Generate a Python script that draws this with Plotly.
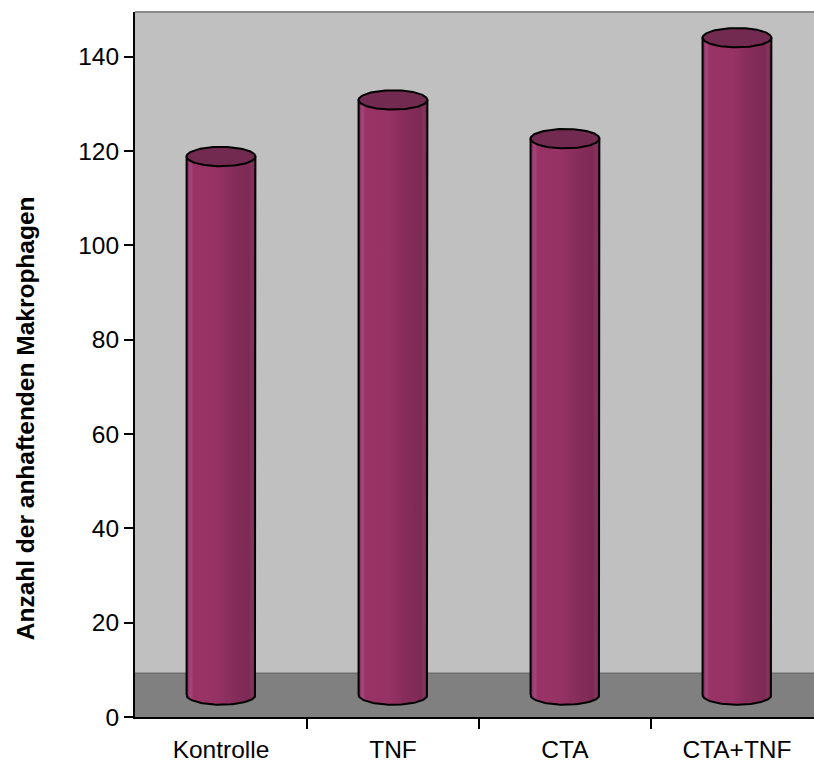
import numpy as np
import plotly.graph_objects as go

# Adherent macrophage counts per treatment group
categories = ["Kontrolle", "TNF", "CTA", "CTA+TNF"]
values = [114.2, 126.2, 118.0, 139.4]
y_ticks = [0, 20, 40, 60, 80, 100, 120, 140]

# Pseudo-3D geometry (data units)
FLOOR_DEPTH = 9.3          # visible depth of the floor slab
BASE = FLOOR_DEPTH / 2     # cylinders stand in the middle of the floor
HALF_W = 0.2               # half width of a cylinder in category units
ELL_H = 2.05               # vertical semi-axis of the cylinder ellipses
Y_MAX = 149.5
X_RANGE = [-0.5, 3.448]

BODY_SCALE = [
    [0.00, "#86295a"],
    [0.06, "#a4477a"],
    [0.10, "#993366"],
    [0.45, "#963265"],
    [0.60, "#8a2e5d"],
    [0.90, "#7c2a54"],
    [0.95, "#86335e"],
    [1.00, "#74274e"],
]
TOP_COLOR = "#722a51"
FONT = "Liberation Sans, Arial"

fig = go.Figure()

theta_half = np.linspace(0, np.pi, 60)
theta_full = np.linspace(0, 2 * np.pi, 120)

for i, (name, v) in enumerate(zip(categories, values)):
    top = BASE + v
    # cylinder body: sides plus front half of the bottom ellipse
    bx = np.concatenate([
        [i - HALF_W, i - HALF_W, i + HALF_W, i + HALF_W],
        i + HALF_W * np.cos(theta_half),
    ])
    by = np.concatenate([
        [BASE, top, top, BASE],
        BASE - ELL_H * np.sin(theta_half),
    ])
    fig.add_trace(go.Scatter(
        x=bx, y=by, mode="lines", fill="toself",
        line=dict(color="black", width=2),
        fillgradient=dict(type="horizontal", colorscale=BODY_SCALE),
        hoverinfo="skip", showlegend=False,
    ))
    # top cap ellipse
    fig.add_trace(go.Scatter(
        x=i + HALF_W * np.cos(theta_full),
        y=top + ELL_H * np.sin(theta_full),
        mode="lines", fill="toself", fillcolor=TOP_COLOR,
        line=dict(color="black", width=2),
        name=name, hovertemplate="%{fullData.name}: " + f"{v}<extra></extra>",
        showlegend=False,
    ))

# floor slab and its back edge
fig.add_shape(type="rect", xref="paper", yref="y", x0=0, x1=1, y0=0, y1=FLOOR_DEPTH,
              fillcolor="#808080", line_width=0, layer="below")
fig.add_shape(type="line", xref="paper", yref="y", x0=0, x1=1,
              y0=FLOOR_DEPTH, y1=FLOOR_DEPTH, line=dict(color="#6e6e6e", width=1.5),
              layer="below")
# top edge of the back wall
fig.add_shape(type="line", xref="paper", yref="paper", x0=0, x1=1, y0=1, y1=1,
              line=dict(color="#8a8a8a", width=2), layer="above")

fig.add_annotation(
    text="<b>Anzahl der anhaftenden Makrophagen</b>",
    xref="paper", yref="paper", x=(25 - 135) / 679, y=(720 - 420) / 708,
    xanchor="center", yanchor="middle", textangle=-90, showarrow=False,
    font=dict(family=FONT, size=24.5, color="black"),
)

fig.update_xaxes(
    range=X_RANGE, tickvals=list(range(len(categories))), ticktext=categories,
    ticks="outside", ticklen=10, tickcolor="rgba(0,0,0,0)",
    minor=dict(tickvals=[0.5, 1.5, 2.5, 3.5], ticks="outside", ticklen=10,
               tickwidth=2, tickcolor="black"),
    showline=True, linecolor="black", linewidth=2, showgrid=False, zeroline=False,
    tickfont=dict(family=FONT, size=24.5, color="black"),
    fixedrange=True,
)
fig.update_yaxes(
    range=[0, Y_MAX], tickvals=y_ticks, ticks="outside", ticklen=9, tickwidth=2,
    tickcolor="black", showline=True, linecolor="black", linewidth=2,
    showgrid=False, zeroline=False,
    tickfont=dict(family=FONT, size=24.5, color="black"),
    fixedrange=True,
)
fig.update_layout(
    width=814, height=763,
    margin=dict(l=135, r=0, t=12, b=43),
    plot_bgcolor="#c0c0c0", paper_bgcolor="white",
    showlegend=False,
)

fig.write_html("out.html")
